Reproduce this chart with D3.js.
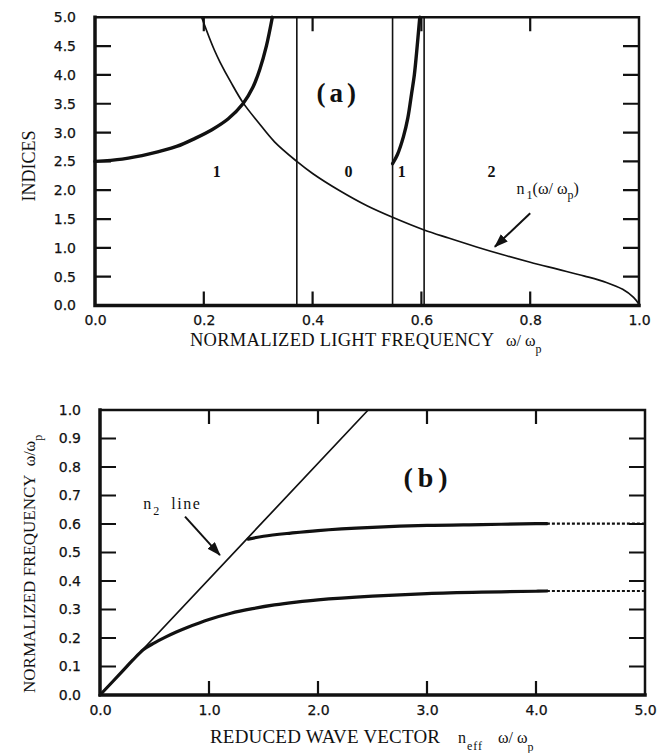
<!DOCTYPE html>
<html>
<head>
<meta charset="utf-8">
<script src="https://cdn.jsdelivr.net/npm/d3@7"></script>
<style>
  html, body { margin: 0; padding: 0; background: #fff; }
  svg { display: block; }
  .tick text { font-family: "DejaVu Sans", sans-serif; font-size: 14px; fill: #111; stroke: #111; stroke-width: 0.25px; }
  .title { font-family: "Liberation Serif", "Times New Roman", serif; fill: #111; }
</style>
</head>
<body>
<svg id="fig" width="664" height="753"></svg>
<script>
// ---- Panel (a): indices vs normalized light frequency ----
const n1Curve = [
  [0.196, 5.00], [0.21, 4.65], [0.22, 4.42], [0.23, 4.22], [0.25, 3.87],
  [0.272, 3.52], [0.30, 3.18], [0.33, 2.84], [0.371, 2.50], [0.40, 2.29],
  [0.45, 1.99], [0.50, 1.73], [0.547, 1.53], [0.605, 1.31], [0.65, 1.17],
  [0.70, 1.02], [0.75, 0.88], [0.80, 0.75], [0.85, 0.63], [0.90, 0.51],
  [0.94, 0.40], [0.97, 0.28], [0.99, 0.14], [1.00, 0.02]
];
const mode1Low = [
  [0.0, 2.50], [0.05, 2.54], [0.10, 2.63], [0.15, 2.76], [0.184, 2.90],
  [0.215, 3.05], [0.245, 3.24], [0.272, 3.50], [0.29, 3.78], [0.303, 4.10],
  [0.315, 4.50], [0.326, 5.00]
];
const mode1High = [
  [0.547, 2.46], [0.556, 2.62], [0.567, 2.93], [0.575, 3.25], [0.582, 3.68],
  [0.587, 4.00], [0.591, 4.37], [0.597, 5.00]
];
const cutoffs = [0.371, 0.547, 0.605];
const regionLabels = [
  { text: "1", x: 0.224, y: 2.23 },
  { text: "0", x: 0.466, y: 2.23 },
  { text: "1", x: 0.564, y: 2.23 },
  { text: "2", x: 0.729, y: 2.23 }
];
const aTicksX = [0.0, 0.2, 0.4, 0.6, 0.8, 1.0];
const aTicksY = [0.0, 0.5, 1.0, 1.5, 2.0, 2.5, 3.0, 3.5, 4.0, 4.5, 5.0];

// ---- Panel (b): dispersion curves ----
const n2Line = [[0.0, 0.0], [2.46, 1.0]];
const lowerBranch = [
  [0.0, 0.0], [0.2, 0.081], [0.3, 0.122], [0.4, 0.160], [0.5, 0.183],
  [0.6, 0.203], [0.7, 0.221], [0.8, 0.237], [1.0, 0.265], [1.2, 0.287],
  [1.4, 0.303], [1.6, 0.316], [1.8, 0.326], [2.0, 0.334], [2.5, 0.347],
  [3.0, 0.356], [3.5, 0.361], [4.0, 0.364], [4.1, 0.365]
];
const lowerBranchTail = [[4.1, 0.365], [5.0, 0.365]];
const upperBranch = [
  [1.36, 0.547], [1.5, 0.557], [1.75, 0.568], [2.0, 0.577], [2.5, 0.588],
  [3.0, 0.595], [3.5, 0.598], [4.0, 0.601], [4.1, 0.601]
];
const upperBranchTail = [[4.1, 0.601], [5.0, 0.601]];
const bTicksX = [0.0, 1.0, 2.0, 3.0, 4.0, 5.0];
const bTicksY = [0.0, 0.1, 0.2, 0.3, 0.4, 0.5, 0.6, 0.7, 0.8, 0.9, 1.0];

const svg = d3.select("#fig");
const fmt = d3.format(".1f");
const INK = "#111";

svg.append("defs").append("marker")
  .attr("id", "head")
  .attr("viewBox", "0 0 14 10")
  .attr("refX", 13).attr("refY", 5)
  .attr("markerWidth", 14).attr("markerHeight", 10)
  .attr("markerUnits", "userSpaceOnUse")
  .attr("orient", "auto")
  .append("path").attr("d", "M0,0 L14,5 L0,10 Z").attr("fill", INK);

function panel(xs, ys, ticksX, ticksY) {
  const g = svg.append("g");
  const [x0, x1] = xs.range();
  const [y0, y1] = ys.range();
  const inner = (arr) => arr.slice(1, -1);

  // tick labels from the library's axes
  g.append("g").attr("transform", `translate(0,${y0})`)
    .call(d3.axisBottom(xs).tickValues(ticksX).tickFormat(fmt).tickSize(0).tickPadding(10))
    .call(a => a.select(".domain").remove());
  g.append("g").attr("transform", `translate(${x0},0)`)
    .call(d3.axisLeft(ys).tickValues(ticksY).tickFormat(fmt).tickSize(0).tickPadding(19))
    .call(a => a.select(".domain").remove());

  // inward tick marks on all four sides, one path
  let d = "";
  inner(ticksX).forEach(v => {
    const px = xs(v);
    d += `M${px},${y0}V${y0 - 14}M${px},${y1}V${y1 + 14}`;
  });
  inner(ticksY).forEach(v => {
    const py = ys(v);
    d += `M${x0},${py}H${x0 + 16}M${x1},${py}H${x1 - 16}`;
  });
  g.append("path").attr("d", d)
    .attr("fill", "none").attr("stroke", INK).attr("stroke-width", 2.2);

  // frame
  g.append("path")
    .attr("d", `M${x0},${y1}H${x1}V${y0}`)
    .attr("fill", "none").attr("stroke", INK).attr("stroke-width", 2.5);
  g.append("path")
    .attr("d", `M${x0},${y1}V${y0}H${x1}`)
    .attr("fill", "none").attr("stroke", INK).attr("stroke-width", 3.5)
    .attr("stroke-linecap", "square");
  return g;
}

function curve(g, xs, ys, data, width, dash) {
  const line = d3.line().x(d => xs(d[0])).y(d => ys(d[1])).curve(d3.curveCatmullRom.alpha(0.5));
  g.append("path").datum(data).attr("d", line)
    .attr("fill", "none").attr("stroke", INK).attr("stroke-width", width)
    .attr("stroke-linecap", dash ? "butt" : "round").attr("stroke-linejoin", "round")
    .attr("stroke-dasharray", dash || null);
}

function arrow(g, xs, ys, from, to) {
  g.append("line")
    .attr("x1", xs(from[0])).attr("y1", ys(from[1]))
    .attr("x2", xs(to[0])).attr("y2", ys(to[1]))
    .attr("stroke", INK).attr("stroke-width", 2)
    .attr("marker-end", "url(#head)");
}

// ===== Panel (a) =====
const xa = d3.scaleLinear().domain([0, 1]).range([95, 639]);
const ya = d3.scaleLinear().domain([0, 5]).range([305.5, 17.3]);
const ga = panel(xa, ya, aTicksX, aTicksY);

ga.selectAll("line.cut").data(cutoffs).join("line")
  .attr("class", "cut")
  .attr("x1", d => xa(d)).attr("x2", d => xa(d))
  .attr("y1", ya(0)).attr("y2", ya(5))
  .attr("stroke", INK).attr("stroke-width", 1.6);

curve(ga, xa, ya, n1Curve, 1.7);
curve(ga, xa, ya, mode1Low, 3.4);
curve(ga, xa, ya, mode1High, 3.4);

ga.selectAll("text.region").data(regionLabels).join("text")
  .attr("class", "title region")
  .attr("x", d => xa(d.x)).attr("y", d => ya(d.y))
  .attr("text-anchor", "middle")
  .attr("font-size", 16).attr("font-weight", "bold")
  .text(d => d.text);

ga.append("text").attr("class", "title")
  .attr("x", xa(0.447)).attr("y", ya(3.53))
  .attr("text-anchor", "middle").attr("font-size", 27).attr("font-weight", "bold")
  .attr("letter-spacing", 4)
  .text("(a)");

const n1Label = ga.append("text").attr("class", "title")
  .attr("x", xa(0.775)).attr("y", ya(1.93)).attr("font-size", 16);
n1Label.append("tspan").text("n");
n1Label.append("tspan").attr("dy", 5).attr("dx", 2).attr("font-size", 12).text("1");
n1Label.append("tspan").attr("dy", -5).text("(ω/ ω");
n1Label.append("tspan").attr("dy", 5).attr("font-size", 12).text("p");
n1Label.append("tspan").attr("dy", -5).text(")");

arrow(ga, xa, ya, [0.80, 1.60], [0.735, 1.02]);

// axis titles of (a)
ga.append("text").attr("class", "title")
  .attr("transform", "translate(35,166) rotate(-90)")
  .attr("text-anchor", "middle").attr("font-size", 18)
  .text("INDICES");
const xaTitle = ga.append("text").attr("class", "title")
  .attr("x", 190).attr("y", 346).attr("font-size", 18.5);
xaTitle.append("tspan").attr("textLength", 304).text("NORMALIZED LIGHT FREQUENCY");
xaTitle.append("tspan").attr("x", 506).attr("font-size", 16).text("ω/ ω");
xaTitle.append("tspan").attr("dy", 7).attr("font-size", 12).text("p");

// ===== Panel (b) =====
const xb = d3.scaleLinear().domain([0, 5]).range([100, 645]);
const yb = d3.scaleLinear().domain([0, 1]).range([695, 410]);
const gb = panel(xb, yb, bTicksX, bTicksY);

curve(gb, xb, yb, n2Line, 1.7);
curve(gb, xb, yb, lowerBranch, 3.2);
curve(gb, xb, yb, upperBranch, 3.2);
curve(gb, xb, yb, lowerBranchTail, 2.2, "3,2");
curve(gb, xb, yb, upperBranchTail, 2.2, "3,2");

gb.append("text").attr("class", "title")
  .attr("x", xb(3.01)).attr("y", yb(0.73))
  .attr("text-anchor", "middle").attr("font-size", 28).attr("font-weight", "bold")
  .attr("letter-spacing", 5)
  .text("(b)");

const n2Label = gb.append("text").attr("class", "title")
  .attr("x", xb(0.397)).attr("y", yb(0.652)).attr("font-size", 16);
n2Label.append("tspan").text("n");
n2Label.append("tspan").attr("dy", 6).attr("dx", 2).attr("font-size", 12).text("2");
n2Label.append("tspan").attr("dy", -6).attr("dx", 12).attr("letter-spacing", 1.5).text("line");

arrow(gb, xb, yb, [0.78, 0.626], [1.10, 0.491]);

// axis titles of (b)
const ybTitle = gb.append("text").attr("class", "title")
  .attr("transform", "translate(35,693) rotate(-90)")
  .attr("font-size", 17);
ybTitle.append("tspan").text("NORMALIZED FREQUENCY");
ybTitle.append("tspan").attr("dx", 8).attr("font-size", 16).text("ω/ω");
ybTitle.append("tspan").attr("dy", 7).attr("font-size", 12).text("p");

const xbTitle = gb.append("text").attr("class", "title")
  .attr("x", 210).attr("y", 743).attr("font-size", 19);
xbTitle.append("tspan").attr("textLength", 230).text("REDUCED WAVE VECTOR");
xbTitle.append("tspan").attr("x", 458).attr("font-size", 16).text("n");
xbTitle.append("tspan").attr("dy", 7).attr("dx", 1).attr("font-size", 12).attr("letter-spacing", 1).text("eff");
xbTitle.append("tspan").attr("dy", -7).attr("x", 498).attr("font-size", 16).text("ω/ ω");
xbTitle.append("tspan").attr("dy", 8).attr("font-size", 12).text("p");
</script>
</body>
</html>
